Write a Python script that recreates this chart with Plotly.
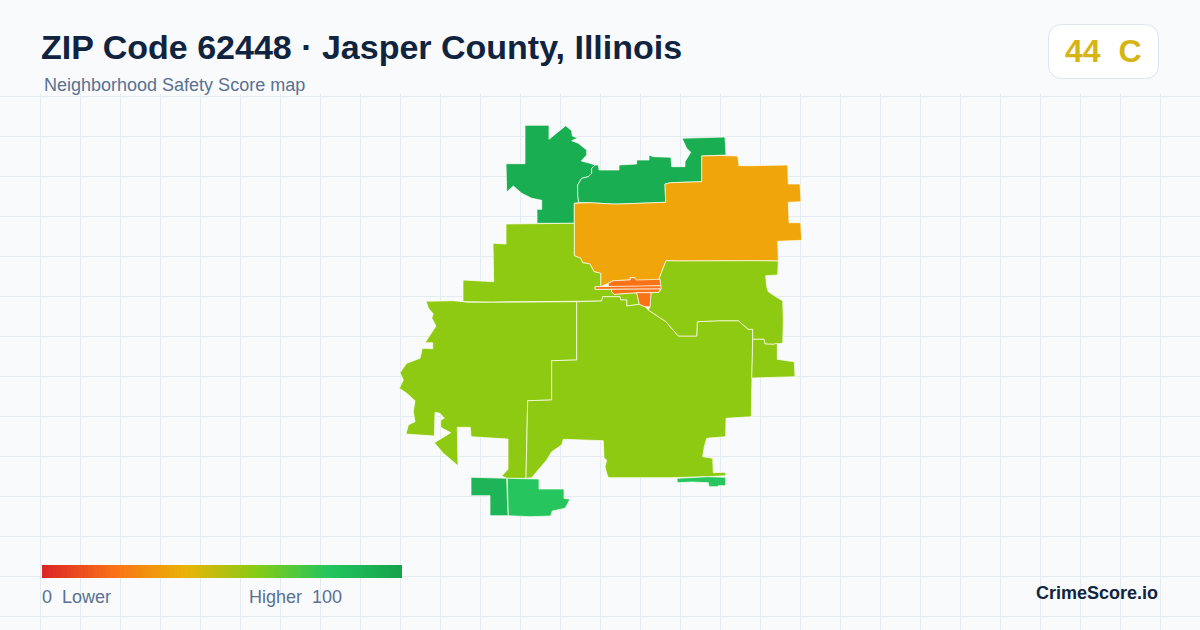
import plotly.graph_objects as go
import numpy as np

W, H = 1200, 630
GRID_TOP = 96

title_text = "ZIP Code 62448 · Jasper County, Illinois"
subtitle_text = "Neighborhood Safety Score map"
score_text = "44\u00a0\u00a0C"
legend_low = "0\u00a0\u00a0Lower"
legend_high = "Higher\u00a0\u00a0100"
brand_text = "CrimeScore.io"

DARK_GREEN = "#19ae52"
MID_GREEN = "#1db557"
BRIGHT_GREEN = "#26c55e"
LIME = "#8fca12"
AMBER = "#f0a50b"
ORANGE = "#f97316"

# Zone outlines
nw_x = [525,549,549,565.7,571.7,572.3,577.7,571.7,578.3,586.7,586.7,581.3,590,595,591.7,591.7,588.3,581.7,577.7,577.7,578.7,574.3,574.3,537,537,541.7,541.7,531.7,521.7,513.3,506.7,506,525]
nw_y = [125.3,125.3,139.3,125.7,130.7,136,138,140.7,143.3,150,155,161,163.3,165,168.3,173.3,176.7,178.3,185,195,202.7,203.3,223.3,223.3,209.3,209.3,200.3,198.3,193.3,186,192,163.7,163.7]

north_x = [595,598.3,599,619,619,636.7,636.7,649,649,653.3,671,671.7,685,685,690.7,686.7,682,703.3,725,726,701.7,701.7,670.7,665,665.7,620,611.7,590,578.7,577.7,577.7,581.7,588.3,591.7,591.7]
north_y = [165,165,170,170,165,164,160,160,155,156.7,157.3,166.7,166.7,161.7,152.3,148.3,138.3,137.7,137,155,156,181.7,182.7,184,202.3,204,204,202.7,202.7,195,185,178.3,176.7,173.3,168.3]

amber_x = [701.7,720,737.7,739,753,787.7,788.3,800,801,788.3,789,800.7,801.7,777.7,778.3,753.3,676.7,666,658.3,636,635,630,630,613,608,600.7,600.7,594,590,582.7,580.7,574.3,574.3,590,611.7,620,665.7,665,670.7,701.7]
amber_y = [156,155.5,156,165.7,165.7,165,184,184,201.7,202.3,222.7,222.7,240.3,241.3,261,260.7,261,260.7,280.7,281,277.7,277.7,280,280.7,283.3,286.7,273.3,271.7,264,262.7,258.3,255.7,203.3,202.7,204,204,202.3,184,182.7,181.7]

town_a_x = [608.3,608.3,613.3,630,630.7,635,635.7,660,660.7,636.7]
town_a_y = [286.7,283.3,280.7,280,277.7,277.7,280,279.3,285.7,286.7]
town_b_x = [595,661,661,595]
town_b_y = [286.7,285.7,289,289.3]
town_c_x = [611.7,660,659,636.7,614,611.7]
town_c_y = [289.3,289,292.3,292.7,294.3,291.7]
town_d_x = [636.7,651,650,645,639.3]
town_d_y = [292.7,292.7,306.7,306.7,304.3]

lime_nw_x = [506,574.3,574.3,580.7,582.7,590,594,600.7,600.7,595,595,611.7,611.7,614,636.7,639.3,626.7,626.7,620.7,620,602.7,601.7,491.7,467.3,463,463,486.7,493.7,493,506]
lime_nw_y = [224,223.3,255.7,258.3,262.7,264,271.7,273.3,286.7,286.7,289.3,289.3,291.7,294.3,292.7,304.3,306,300,300,296.7,296.7,301,302,302,301.7,280,281.7,281.7,243.3,244]

lime_w_x = [426,443.3,453.3,463,467.3,491.7,576.7,576.7,551.7,551.7,527.7,526.7,526,506.7,501.7,508,508,480,471,470.3,457.3,458,443.3,434.3,450.7,440.7,440.7,444.3,440,435,434.3,406,408.3,415,413.3,415,406.7,399.3,403.3,400,406.7,420,422.3,432.7,432.7,425,431.7,436,431.7,433.3,428.3]
lime_w_y = [301.3,301.3,300.7,301.7,302.3,302.3,301.7,360,360.7,400,400.7,441.7,478.3,478.3,476,469.3,439,437.3,436.7,427.3,427.3,465.7,453.3,442.7,432.7,427.3,420,418.3,413.3,412.3,436,434,425,421.7,411.7,400.7,393.3,388.3,380,372.7,363.3,358.3,348.3,348.7,342.7,342.7,333.3,326,318,314,308]

lime_c_x = [576.7,601.7,602.7,620,620.7,626.7,626.7,639.3,645,648.3,666,678.3,696.7,697.3,718.3,738.3,748.3,752.7,752.3,751.3,726,725.7,706.7,704.3,702.7,712.7,713.3,725.7,725.7,708.3,670,608.3,606.7,605,606.7,604,603.3,563.3,561.7,551.7,546.7,538.3,531.7,526,526.7,527.7,551.7,551.7,576.7]
lime_c_y = [301.7,301,296.7,296.7,300,300,306,304.3,306.7,310,321.7,336,336,321.7,320.7,320.7,329.3,329.3,359.3,416.7,418.3,436.7,438.3,446.7,456.7,458.3,472.7,472.3,475.7,476.7,477.7,477.7,473.3,466.7,460,458.3,440.7,439.3,445,451.7,460,470,477.7,478.3,441.7,400.7,400,360.7,360]

lime_e_x = [666,676.7,753.3,778.3,777.7,765.7,766.7,768.3,778.3,782.7,783.3,782.7,773.3,765,764,752.7,752.7,748.3,738.3,718.3,697.3,696.7,678.3,666,648.3,650,651,659,661,660.7,660,658.3]
lime_e_y = [260.7,261,260.7,261,275,275.7,286.7,291.7,298.3,300.7,320,343.3,344.3,344,339.3,339.3,329.3,329.3,320.7,320.7,321.7,336,336,321.7,310,306.7,292.7,292.3,289,285.7,279.3,280.7]

lime_se_x = [752.7,764,765,773.3,777.3,777.3,786.7,794.3,795,765,751.7,752.3]
lime_se_y = [339.3,339.3,344,344.3,343.3,359.3,360.7,361.7,376.7,377.7,378,359.3]

strip_x = [677,708.3,725.7,725.7,718.3,717.7,709,708.3,691.7,677.3]
strip_y = [478.3,476.7,477.3,485.7,485.7,486.7,486.7,482.7,482,482.7]

sw_x = [471,506.7,507.3,508.3,490,490,471]
sw_y = [477.3,478.3,498.3,515.7,515.7,495.7,495.7]

south_x = [507.3,539,539,564,564,570,565,552.3,550.7,530,508.3]
south_y = [478.3,479,489,489,498.3,499.3,508.3,511,516,516.7,515.7]

zones = [
    (nw_x, nw_y, DARK_GREEN), (north_x, north_y, DARK_GREEN), (amber_x, amber_y, AMBER),
    (lime_nw_x, lime_nw_y, LIME), (lime_w_x, lime_w_y, LIME), (lime_c_x, lime_c_y, LIME),
    (lime_e_x, lime_e_y, LIME), (lime_se_x, lime_se_y, LIME),
    (town_a_x, town_a_y, ORANGE), (town_b_x, town_b_y, ORANGE), (town_c_x, town_c_y, ORANGE), (town_d_x, town_d_y, ORANGE),
    (strip_x, strip_y, BRIGHT_GREEN), (sw_x, sw_y, MID_GREEN), (south_x, south_y, BRIGHT_GREEN),
]

legend_scores = list(range(0, 101))
legend_colors = [[0.0, "#dc2626"], [0.2, "#f97316"], [0.4, "#eab308"], [0.6, "#84cc16"], [0.8, "#22c55e"], [1.0, "#16a34a"]]

fig = go.Figure()
for zx, zy, col in zones:
    fig.add_trace(go.Scatter(x=zx + zx[:1], y=zy + zy[:1], mode="lines", fill="toself", fillcolor=col,
                             line=dict(color="#fffff4", width=0.7), hoverinfo="skip", showlegend=False))

fig.add_trace(go.Heatmap(z=[legend_scores], x=np.linspace(42, 402, len(legend_scores) + 1), y=[565, 578],
                         zmin=0, zmax=100, colorscale=legend_colors, showscale=False, hoverinfo="skip"))

def px(x): return x / W
def py(y): return 1 - y / H

def label(text, x, y, size, color, bold=False, anchor="left"):
    fig.add_annotation(text=f"<b>{text}</b>" if bold else text, xref="paper", yref="paper", x=px(x), y=py(y),
                       xanchor=anchor, yanchor="middle", showarrow=False, borderpad=0, borderwidth=0,
                       font=dict(family="Liberation Sans", size=size, color=color))

label(title_text, 41, 47, 34, "#10243f", True)
label(subtitle_text, 44, 85, 18, "#5a7190")
label(legend_low, 42, 597, 18, "#5a7190")
label(legend_high, 249, 597, 18, "#5a7190")
label(brand_text, 1158, 593, 18, "#10243f", True, "right")

# badge outline
x0, x1, y0, y1, r = 1048.5, 1158.5, 24.5, 78.5, 14
path = (f"M {px(x0+r)} {py(y0)} L {px(x1-r)} {py(y0)} Q {px(x1)} {py(y0)} {px(x1)} {py(y0+r)} "
        f"L {px(x1)} {py(y1-r)} Q {px(x1)} {py(y1)} {px(x1-r)} {py(y1)} L {px(x0+r)} {py(y1)} "
        f"Q {px(x0)} {py(y1)} {px(x0)} {py(y1-r)} L {px(x0)} {py(y0+r)} Q {px(x0)} {py(y0)} {px(x0+r)} {py(y0)} Z")
fig.add_shape(type="path", path=path, xref="paper", yref="paper", fillcolor="#ffffff", line=dict(color="#dfe5ee", width=1))
label(score_text, 1065, 51, 32, "#d6b512", True)

axis = dict(showticklabels=False, ticks="", zeroline=False, showline=False, showgrid=True,
            gridcolor="#e4ecf1", gridwidth=1, fixedrange=True)
fig.update_layout(
    width=W, height=H, autosize=False, margin=dict(l=0, r=0, t=0, b=0),
    paper_bgcolor="#f8fafc", plot_bgcolor="#f8fafc", showlegend=False,
    xaxis=dict(axis, range=[0, W], tick0=0, dtick=40),
    yaxis=dict(axis, range=[H, GRID_TOP - 2], tick0=GRID_TOP, dtick=40, domain=[0, (H - GRID_TOP + 2) / H]),
)
fig.write_html("out.html", config=dict(displayModeBar=False),
               post_script="document.body.style.margin='0';document.body.style.overflow='hidden';")
